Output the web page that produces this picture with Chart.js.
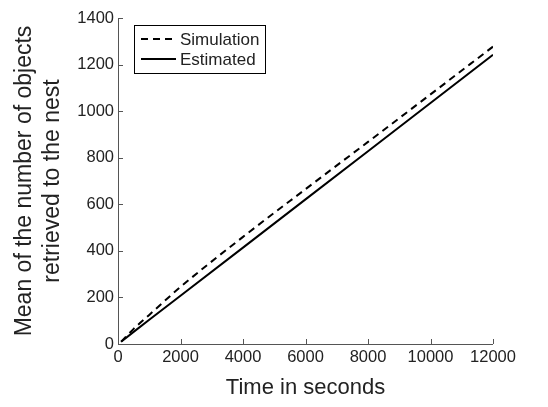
<!DOCTYPE html>
<html>
<head>
<meta charset="utf-8">
<script src="https://cdn.jsdelivr.net/npm/chart.js@4"></script>
<style>
  html, body { margin: 0; padding: 0; background: #fff; }
  #wrap { width: 548px; height: 407px; }
</style>
</head>
<body>
<div id="wrap"><canvas id="c" width="548" height="407"></canvas></div>
<script>
// valores
const times = [100, 500, 1000, 2000, 4000, 6000, 8000, 10000, 12000];
const simulation = [10, 65, 125, 245, 460, 665, 868, 1072, 1277];
const estimated = [10, 52, 104, 207, 414, 621, 828, 1035, 1242];
const xTicks = [0, 2000, 4000, 6000, 8000, 10000, 12000];
const yTicks = [0, 200, 400, 600, 800, 1000, 1200, 1400];

const FONT = "'Liberation Sans', Arial, sans-serif";
const TXT = "#222";
const AXIS = "#555";

const pts = (ys) => times.map((t, i) => ({ x: t, y: ys[i] }));

// ticks para dentro + eixos esquerdo/inferior
const axesPlugin = {
  id: "axesIn",
  afterDraw(chart) {
    const { ctx, chartArea: a, scales } = chart;
    ctx.save();
    ctx.strokeStyle = AXIS;
    ctx.lineWidth = 1;
    ctx.beginPath();
    ctx.moveTo(a.left + 0.5, a.top);
    ctx.lineTo(a.left + 0.5, a.bottom + 0.5);
    ctx.lineTo(a.right, a.bottom + 0.5);
    xTicks.forEach((v) => {
      const x = Math.round(scales.x.getPixelForValue(v)) + 0.5;
      ctx.moveTo(x, a.bottom);
      ctx.lineTo(x, a.bottom - 5);
    });
    yTicks.forEach((v) => {
      const y = Math.round(scales.y.getPixelForValue(v)) + 0.5;
      ctx.moveTo(a.left, y);
      ctx.lineTo(a.left + 5, y);
    });
    ctx.stroke();
    ctx.restore();
  },
};

// legenda dentro do grafico
const legendBox = {
  id: "legendBox",
  afterDraw(chart) {
    const { ctx } = chart;
    const x0 = 134, y0 = 25, w = 131, h = 48;
    ctx.save();
    ctx.fillStyle = "#fff";
    ctx.fillRect(x0, y0, w, h);
    ctx.strokeStyle = "#000";
    ctx.lineWidth = 1;
    ctx.strokeRect(x0 + 0.5, y0 + 0.5, w, h);
    chart.data.datasets.forEach((ds, i) => {
      const y = y0 + 14 + i * 20;
      ctx.beginPath();
      ctx.setLineDash(ds.borderDash || []);
      ctx.lineWidth = 2;
      ctx.strokeStyle = ds.borderColor;
      ctx.moveTo(x0 + 7, y);
      ctx.lineTo(x0 + 42, y);
      ctx.stroke();
      ctx.setLineDash([]);
      ctx.fillStyle = TXT;
      ctx.font = "17px " + FONT;
      ctx.textBaseline = "middle";
      ctx.fillText(ds.label, x0 + 46, y + 1);
    });
    ctx.restore();
  },
};

new Chart(document.getElementById("c"), {
  type: "line",
  data: {
    datasets: [
      {
        label: "Simulation",
        data: pts(simulation),
        borderColor: "#000",
        borderWidth: 2,
        borderDash: [7, 5],
        pointRadius: 0,
        tension: 0.3,
        cubicInterpolationMode: "monotone",
      },
      {
        label: "Estimated",
        data: pts(estimated),
        borderColor: "#000",
        borderWidth: 2,
        pointRadius: 0,
        tension: 0,
      },
    ],
  },
  options: {
    responsive: false,
    animation: false,
    devicePixelRatio: 1,
    layout: { padding: { left: 0, top: 18, right: 55, bottom: 0 } },
    plugins: { legend: { display: false }, tooltip: { enabled: false } },
    scales: {
      x: {
        type: "linear",
        min: 0,
        max: 12000,
        afterBuildTicks: (s) => { s.ticks = xTicks.map((v) => ({ value: v })); },
        afterFit: (s) => { s.height = 63; },
        grid: { display: false, drawTicks: false },
        border: { display: false },
        ticks: {
          color: TXT,
          font: { size: 16.5, family: FONT },
          padding: 4,
          maxRotation: 0,
          callback: (v) => String(v),
        },
        title: {
          display: true,
          text: "Time in seconds",
          color: TXT,
          font: { size: 22, family: FONT, lineHeight: 1.2 },
          padding: { top: 0, bottom: 6 },
        },
      },
      y: {
        min: 0,
        max: 1400,
        afterBuildTicks: (s) => { s.ticks = yTicks.map((v) => ({ value: v })); },
        afterFit: (s) => { s.width = 118; },
        grid: { display: false, drawTicks: false },
        border: { display: false },
        ticks: {
          color: TXT,
          font: { size: 16.5, family: FONT },
          padding: 4,
          callback: (v) => String(v),
        },
        title: {
          display: true,
          text: ["Mean of the number of objects", "retrieved to the nest"],
          color: TXT,
          font: { size: 23, family: FONT, lineHeight: 1.22 },
          padding: { top: 11, bottom: 0 },
        },
      },
    },
  },
  plugins: [axesPlugin, legendBox],
});
</script>
</body>
</html>
